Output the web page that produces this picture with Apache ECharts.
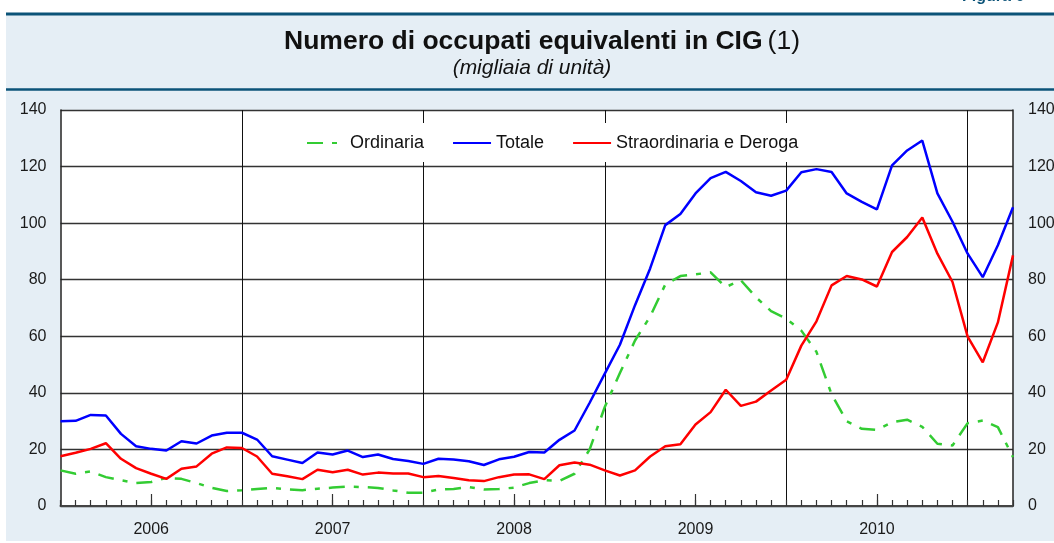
<!DOCTYPE html>
<html>
<head>
<meta charset="utf-8">
<script src="https://cdn.jsdelivr.net/npm/echarts@6/dist/echarts.min.js"></script>
<style>
  html, body { margin: 0; padding: 0; background: #fff; }
  #chart { width: 1054px; height: 543px; }
</style>
</head>
<body>
<div id="chart"></div>
<script>
// monthly data, Jan 2006 - Apr 2011 (migliaia di unita)
const years = ['2006', '2007', '2008', '2009', '2010', '2011'];
const lastMonth = 4;

const ordinaria = [
  12.6, 11.4, 12.2, 10.2, 9.1, 8.1, 8.5, 9.9, 9.6, 8.1, 6.4, 5.3,
  5.6, 6.0, 6.4, 5.9, 5.6, 6.1, 6.5, 6.9, 6.7, 6.4, 5.5, 4.7,
  4.7, 5.8, 6.0, 6.7, 5.8, 6.0, 6.5, 8.1, 9.1, 8.9, 11.4, 20.0,
  35.0, 47.0, 58.5, 67.0, 78.3, 81.3, 81.9, 82.6, 77.4, 79.8, 73.8, 68.9,
  66.2, 62.0, 54.5, 39.5, 30.0, 27.3, 26.9, 29.6, 30.5, 28.0, 22.0, 21.4,
  29.3, 30.2, 27.9, 17.3
];
const totale = [
  30.0, 30.1, 32.2, 32.0, 25.5, 21.1, 20.2, 19.6, 22.9, 22.1, 24.9, 25.9,
  25.9, 23.5, 17.6, 16.4, 15.2, 18.9, 18.2, 19.6, 17.3, 18.2, 16.6, 15.9,
  14.9, 16.7, 16.4, 15.8, 14.5, 16.5, 17.4, 19.1, 18.9, 23.4, 26.7, 36.5,
  46.8, 57.0, 71.0, 84.0, 99.3, 103.2, 110.5, 115.9, 118.1, 114.9, 110.9, 109.7,
  111.5, 118.0, 119.1, 118.1, 110.5, 107.5, 104.9, 120.4, 125.7, 129.2, 110.5, 100.5,
  89.2, 80.9, 92.2, 105.6
];
const straordinaria = [
  17.6, 18.8, 20.2, 22.2, 16.7, 13.4, 11.4, 9.6, 13.2, 14.0, 18.5, 20.7,
  20.5, 17.5, 11.4, 10.5, 9.5, 12.8, 11.9, 12.8, 11.1, 11.8, 11.5, 11.5,
  10.2, 10.6, 9.9, 9.1, 8.8, 10.2, 11.1, 11.2, 9.5, 14.4, 15.4, 14.6,
  12.6, 10.8, 12.6, 17.5, 21.1, 21.8, 28.8, 33.2, 41.1, 35.4, 36.9, 40.8,
  44.6, 56.7, 65.3, 78.0, 81.3, 80.1, 77.6, 89.8, 95.1, 102.0, 89.2, 79.2,
  59.9, 50.8, 64.9, 88.6
];
const yTicks = { min: 0, max: 140, interval: 20 };

const months = [];
years.forEach((y, yi) => {
  const n = yi === years.length - 1 ? lastMonth : 12;
  for (let m = 1; m <= n; m++) months.push(y + '-' + (m < 10 ? '0' + m : m));
});

const font = 'Liberation Sans, Arial, sans-serif';
const labelStyle = { color: '#1a1a1a', fontSize: 16, fontFamily: font };

const chart = echarts.init(document.getElementById('chart'));
chart.setOption({
  animation: false,
  backgroundColor: '#fff',
  graphic: [
    { type: 'rect', z: -10, silent: true,
      shape: { x: 6, y: 14, width: 1048, height: 527 },
      style: { fill: '#e5eef5' } },
    { type: 'rect', z: -9, silent: true,
      shape: { x: 6, y: 12.5, width: 1048, height: 3 },
      style: { fill: '#0b5378' } },
    { type: 'rect', z: -9, silent: true,
      shape: { x: 6, y: 88.3, width: 1048, height: 2.5 },
      style: { fill: '#0b5378' } },
    { type: 'text', silent: true, x: 962, y: 5,
      style: { text: 'Figura 6', font: 'bold 16px ' + font, fill: '#0b5378', verticalAlign: 'bottom' } }
  ],
  title: [
    {
      text: '{b|Numero di occupati equivalenti in CIG} {r|(1)}',
      left: 537,
      textAlign: 'center',
      top: 23,
      textStyle: {
        rich: {
          b: { fontSize: 26.5, fontWeight: 'bold', fontFamily: font, color: '#111' },
          r: { fontSize: 26.5, fontWeight: 'normal', fontFamily: font, color: '#111' }
        }
      }
    },
    {
      text: '(migliaia di unità)',
      left: 527,
      textAlign: 'center',
      top: 53,
      textStyle: { fontSize: 21, fontStyle: 'italic', fontWeight: 'normal', fontFamily: font, color: '#111' }
    }
  ],
  legend: {
    left: 296,
    top: 123,
    padding: [11, 10, 10, 10],
    backgroundColor: '#fff',
    itemWidth: 38,
    itemHeight: 14,
    itemGap: 28,
    itemStyle: { opacity: 0, color: 'rgba(0,0,0,0)', borderWidth: 0 },
    textStyle: { fontSize: 18, fontFamily: font, color: '#111' },
    data: ['Ordinaria', 'Totale', 'Straordinaria e Deroga']
  },
  grid: {
    left: 60.5, right: 41, top: 110, bottom: 37,
    outerBoundsMode: 'none',
    containLabel: false,
    show: true, backgroundColor: '#fff', borderWidth: 0
  },
  xAxis: [
    {
      type: 'category',
      data: months,
      boundaryGap: false,
      position: 'bottom',
      axisLine: { lineStyle: { color: '#444', width: 2 } },
      axisTick: { inside: true, length: 6, interval: 0, lineStyle: { color: '#333', width: 1.2 } },
      axisLabel: { show: false },
      splitLine: { show: false }
    },
    {
      type: 'category',
      data: months,
      boundaryGap: false,
      position: 'bottom',
      offset: 0,
      axisLine: { show: false },
      axisTick: {
        inside: true, length: 12,
        interval: (i) => i % 12 === 6,
        lineStyle: { color: '#333', width: 1.2 }
      },
      axisLabel: {
        ...labelStyle,
        margin: 16,
        interval: (i) => i % 12 === 6,
        formatter: (v) => v.slice(0, 4)
      },
      splitLine: {
        show: true,
        interval: (i) => i % 12 === 0 && i > 0,
        lineStyle: { color: '#111', width: 1 }
      }
    }
  ],
  yAxis: [
    {
      type: 'value', position: 'left', ...yTicks,
      axisLine: { show: true, lineStyle: { color: '#222', width: 1.5 } },
      axisTick: { show: false },
      axisLabel: { ...labelStyle, margin: 14 },
      splitLine: { lineStyle: { color: '#333', width: 1.3 } }
    },
    {
      type: 'value', position: 'right', ...yTicks,
      axisLine: { show: true, lineStyle: { color: '#222', width: 1.5 } },
      axisTick: { show: false },
      axisLabel: { ...labelStyle, margin: 15 },
      splitLine: { show: false }
    }
  ],
  series: [
    {
      name: 'Ordinaria', type: 'line', data: ordinaria,
      symbol: 'none', color: '#33cc33', z: 2,
      lineStyle: { width: 2.5, color: '#33cc33', type: [16, 9, 5, 9] }
    },
    {
      name: 'Totale', type: 'line', data: totale,
      symbol: 'none', color: '#0000ff', z: 3,
      lineStyle: { width: 2.5, color: '#0000ff' }
    },
    {
      name: 'Straordinaria e Deroga', type: 'line', data: straordinaria,
      symbol: 'none', color: '#ff0000', z: 3,
      lineStyle: { width: 2.5, color: '#ff0000' }
    }
  ]
});
</script>
</body>
</html>
